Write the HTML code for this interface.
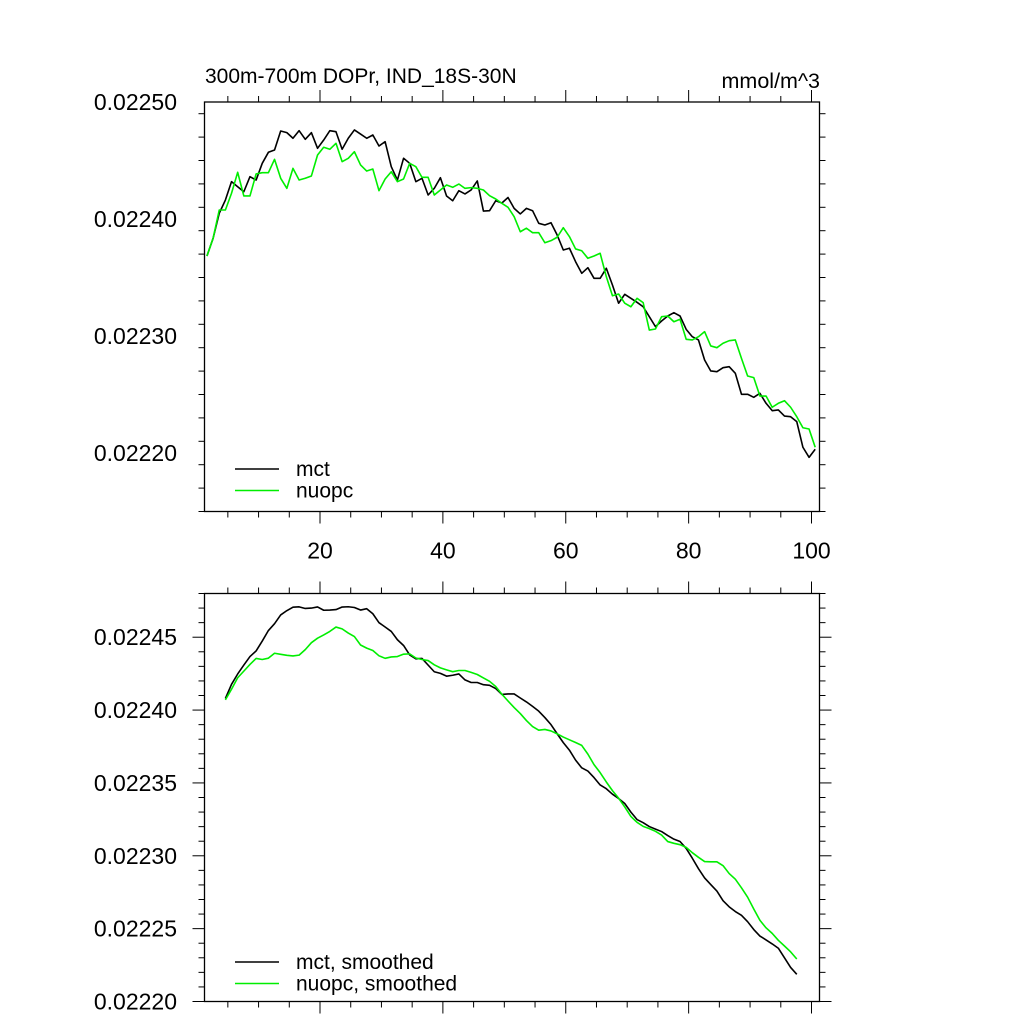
<!DOCTYPE html>
<html><head><meta charset="utf-8">
<style>
html,body{margin:0;padding:0;background:#fff;}
svg{display:block;font-family:"Liberation Sans",Arial,sans-serif;}
</style></head>
<body>
<svg id="chart" width="1024" height="1024" xmlns="http://www.w3.org/2000/svg">
<text x="205" y="83" font-size="21">300m-700m DOPr, IND_18S-30N</text>
<text x="820" y="88" font-size="21.5" text-anchor="end">mmol/m^3</text>
<g id="top"></g>
<g id="bot"></g>
</svg>
<script>
const mctValues = [0.0223684,0.0223835,0.0224049,0.0224162,0.0224319,0.0224276,0.0224233,0.0224362,0.0224333,0.0224476,
0.0224570,0.0224590,0.0224752,0.0224738,0.0224690,0.0224755,0.0224681,0.0224738,0.0224604,0.0224675,
0.0224755,0.0224746,0.0224596,0.0224690,0.0224761,0.0224726,0.0224690,0.0224718,0.0224624,0.0224661,
0.0224447,0.0224333,0.0224519,0.0224476,0.0224319,0.0224348,0.0224205,0.0224262,0.0224353,0.0224197,
0.0224156,0.0224242,0.0224214,0.0224248,0.0224325,0.0224068,0.0224071,0.0224156,0.0224137,0.0224184,
0.0224091,0.0224043,0.0224091,0.0224071,0.0223963,0.0223949,0.0223968,0.0223863,0.0223735,0.0223750,
0.0223635,0.0223536,0.0223584,0.0223493,0.0223493,0.0223579,0.0223436,0.0223280,0.0223356,0.0223322,
0.0223288,0.0223250,0.0223165,0.0223080,0.0223128,0.0223171,0.0223199,0.0223171,0.0223057,0.0222994,
0.0222966,0.0222795,0.0222701,0.0222695,0.0222729,0.0222738,0.0222681,0.0222502,0.0222502,0.0222476,
0.0222510,0.0222425,0.0222362,0.0222368,0.0222316,0.0222310,0.0222268,0.0222049,0.0221963,0.0222032];
const nuopcValues = [0.0223684,0.0223835,0.0224077,0.0224077,0.0224220,0.0224399,0.0224197,0.0224197,0.0224385,0.0224396,
0.0224396,0.0224510,0.0224348,0.0224262,0.0224433,0.0224333,0.0224348,0.0224368,0.0224547,0.0224613,
0.0224596,0.0224647,0.0224490,0.0224519,0.0224575,0.0224462,0.0224410,0.0224427,0.0224242,0.0224342,
0.0224404,0.0224319,0.0224342,0.0224476,0.0224447,0.0224356,0.0224356,0.0224205,0.0224248,0.0224291,
0.0224271,0.0224299,0.0224262,0.0224268,0.0224262,0.0224248,0.0224199,0.0224171,0.0224134,0.0224100,
0.0224020,0.0223891,0.0223921,0.0223883,0.0223883,0.0223797,0.0223815,0.0223844,0.0223926,0.0223849,
0.0223744,0.0223729,0.0223664,0.0223684,0.0223707,0.0223507,0.0223344,0.0223359,0.0223280,0.0223250,
0.0223322,0.0223285,0.0223051,0.0223060,0.0223165,0.0223171,0.0223122,0.0223143,0.0222972,0.0222966,
0.0222994,0.0223037,0.0222915,0.0222900,0.0222938,0.0222960,0.0222966,0.0222809,0.0222658,0.0222644,
0.0222487,0.0222487,0.0222391,0.0222425,0.0222447,0.0222391,0.0222310,0.0222216,0.0222205,0.0222049];
const xStart = 1.6;
const topYTicks = [0.0222,0.0223,0.0224,0.0225];
const topYTickLabels = ["0.02220","0.02230","0.02240","0.02250"];
const botYTicks = [0.0222,0.02225,0.0223,0.02235,0.0224,0.02245];
const botYTickLabels = ["0.02220","0.02225","0.02230","0.02235","0.02240","0.02245"];
const xTicks = [20,40,60,80,100];
const xTickLabels = ["20","40","60","80","100"];

const NS="http://www.w3.org/2000/svg";
function mk(parent,tag,attrs){const e=document.createElementNS(NS,tag);for(const k in attrs)e.setAttribute(k,attrs[k]);parent.appendChild(e);return e;}

function smooth(arr,w){const h=(w-1)/2,out=[];for(let i=h;i<arr.length-h;i++){let s=0;for(let j=-h;j<=h;j++)s+=arr[i+j];out.push({i:i,v:s/w});}return out;}

function panel(g,cfg){
  const L=204.5,R=819.5,T=cfg.top,B=cfg.bottom;
  const xs=v=>L+(v-cfg.xmin)/(cfg.xmax-cfg.xmin)*(R-L);
  const ys=v=>B-(v-cfg.ymin)/(cfg.ymax-cfg.ymin)*(B-T);
  const frame=mk(g,'rect',{x:L,y:T,width:R-L,height:B-T,fill:'none',stroke:'#000','stroke-width':1.3});
  
  
  for(let v=5;v<=cfg.xmax;v+=5){
    const x=xs(v),maj=v%20===0,len=maj?12:6;
    const t1=mk(g,'line',{x1:x,x2:x,y1:B,y2:B+len,stroke:'#000','stroke-width':1});
    
    
    const t2=mk(g,'line',{x1:x,x2:x,y1:T,y2:T-len,stroke:'#000','stroke-width':1});
    
    
  }
  if(cfg.xlabels){
    xTicks.forEach((v,k)=>{
      const t=mk(g,'text',{x:xs(v),y:B+47,'font-size':23,'text-anchor':'middle'});
      t.textContent=xTickLabels[k];
      
      
    });
  }
  const nMinor=Math.round((cfg.ymax-cfg.ymin)/cfg.minor);
  for(let k=0;k<=nMinor;k++){
    const v=cfg.ymin+k*cfg.minor;
    const maj=cfg.majors.some(m=>Math.abs(m-v)<1e-9);
    const y=ys(v),len=maj?12:6;
    const a=mk(g,'line',{x1:L,x2:L-len,y1:y,y2:y,stroke:'#000','stroke-width':1});
    
    
    const b=mk(g,'line',{x1:R,x2:R+len,y1:y,y2:y,stroke:'#000','stroke-width':1});
    
    
  }
  cfg.majors.forEach((v,k)=>{
    const t=mk(g,'text',{x:177,y:ys(v)+8,'font-size':23,'text-anchor':'end'});
    t.textContent=cfg.labels[k];
    
    
  });
  cfg.series.forEach(s=>{
    const d=s.pts.map((p,k)=>(k?'L':'M')+xs(xStart+p.i).toFixed(2)+','+ys(p.v).toFixed(2)).join('');
    const path=mk(g,'path',{d:d,fill:'none',stroke:s.color,'stroke-width':1.6,'stroke-linejoin':'round'});
    
    
  });
  cfg.legend.forEach((l,k)=>{
    const y=cfg.legY+k*21.5;
    const ln=mk(g,'line',{x1:235,x2:279,y1:y,y2:y,stroke:l.color,'stroke-width':1.6});
    
    
    const t=mk(g,'text',{x:296,y:y+7,'font-size':21});
    t.textContent=l.text;
    
    
  });
}

const idx=a=>a.map((v,i)=>({i:i,v:v}));
panel(document.getElementById('top'),{top:102,bottom:511.5,xmin:1.2,xmax:101.3,ymin:0.02215,ymax:0.0225,minor:0.00002,
  majors:topYTicks,labels:topYTickLabels,xlabels:true,legY:469,
  series:[{pts:idx(mctValues),color:'#000',name:'mct-line'},{pts:idx(nuopcValues),color:'#00ee00',name:'nuopc-line'}],
  legend:[{text:'mct',color:'#000'},{text:'nuopc',color:'#00ee00'}]});
panel(document.getElementById('bot'),{top:593.5,bottom:1001.5,xmin:1.2,xmax:101.3,ymin:0.0222,ymax:0.02248,minor:0.00001,
  majors:botYTicks,labels:botYTickLabels,xlabels:false,legY:962,
  series:[{pts:smooth(mctValues,7),color:'#000',name:'mct-smoothed-line'},{pts:smooth(nuopcValues,7),color:'#00ee00',name:'nuopc-smoothed-line'}],
  legend:[{text:'mct, smoothed',color:'#000'},{text:'nuopc, smoothed',color:'#00ee00'}]});
</script>
</body></html>
